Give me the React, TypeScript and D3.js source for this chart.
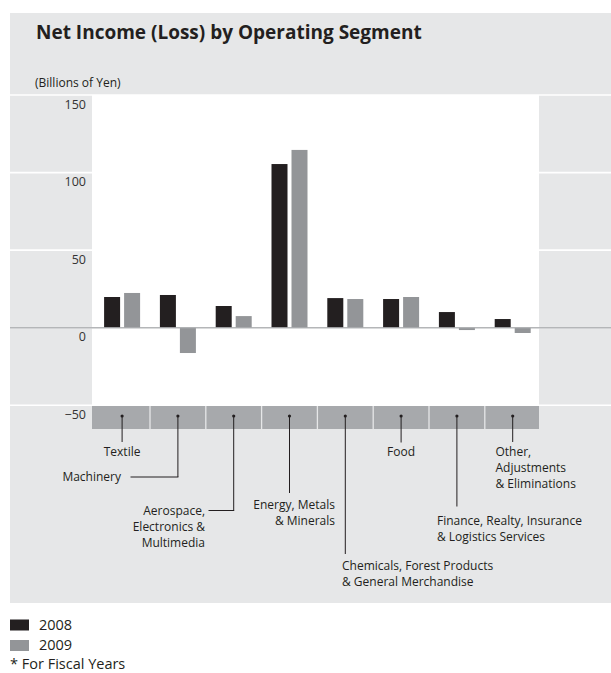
import React from "react";
import * as d3 from "d3";

const categories = [
  "Textile",
  "Machinery",
  "Aerospace, Electronics & Multimedia",
  "Energy, Metals & Minerals",
  "Chemicals, Forest Products & General Merchandise",
  "Food",
  "Finance, Realty, Insurance & Logistics Services",
  "Other, Adjustments & Eliminations",
];
const years = ["2008", "2009"];
const values2008 = [19.8, 21.1, 14.0, 105.5, 19.1, 18.5, 10.1, 5.6];
const values2009 = [22.4, -16.3, 7.5, 114.6, 18.5, 19.8, -1.5, -3.4];
const yTicks = [150, 100, 50, 0, -50];
const tickLabels = ["150", "100", "50", "0", "\u221250"];

// label layout (styles / positions only)
type LabelLayout = {
  lines: string[];
  lineEndY: number;
  elbowX?: number;
  anchor: "start" | "middle" | "end";
  tx: number;
  absX?: boolean;
  ty: number;
};
const labelLayout: LabelLayout[] = [
  { lines: ["Textile"], lineEndY: 442, anchor: "middle", tx: 0, ty: 455.5 },
  { lines: ["Machinery"], lineEndY: 477, elbowX: 130.5, anchor: "end", tx: 121, absX: true, ty: 480.5 },
  { lines: ["Aerospace,", "Electronics &", "Multimedia"], lineEndY: 510.5, elbowX: 208.5, anchor: "end", tx: 205, absX: true, ty: 515 },
  { lines: ["Energy, Metals", "& Minerals"], lineEndY: 493, anchor: "end", tx: 335, absX: true, ty: 509 },
  { lines: ["Chemicals, Forest Products", "& General Merchandise"], lineEndY: 554, anchor: "start", tx: 342, absX: true, ty: 569.5 },
  { lines: ["Food"], lineEndY: 442.5, anchor: "middle", tx: 0, ty: 455.5 },
  { lines: ["Finance, Realty, Insurance", "& Logistics Services"], lineEndY: 506.5, anchor: "start", tx: 437, absX: true, ty: 524.5 },
  { lines: ["Other,", "Adjustments", "& Eliminations"], lineEndY: 442, anchor: "start", tx: 495.5, absX: true, ty: 455.5 },
];

const FONT = "'Open Sans', 'DejaVu Sans', sans-serif";
const TEXT = "#231f20";
const PANEL = "#e6e7e8";
const DARK = "#231f20";
const MID = "#939598";
const BAND = "#a7a9ac";

export default function App() {
  const W = 611;
  const H = 673;
  const plotL = 92;
  const plotR = 539;
  const y = d3.scaleLinear().domain([-50, 150]).range([405.3, 95]);
  const x = d3.scaleBand<string>().domain(categories).range([94.2, 540.6]);
  const inner = d3.scaleBand<string>().domain(years).range([-18, 18]).paddingInner(0.2);
  const series = [values2008, values2009];
  const colors = [DARK, MID];

  return (
    <svg width={W} height={H} style={{ position: "absolute", left: 0, top: 0 }} fontFamily={FONT}>
      <rect x={0} y={0} width={W} height={H} fill="#fff" />
      <rect x={10} y={13} width={W - 10} height={590} fill={PANEL} />
      <text x={36} y={38.5} fontSize={19} fontWeight={700} fill={TEXT}>
        Net Income (Loss) by Operating Segment
      </text>
      <text x={35} y={87} fontSize={12} fill={TEXT}>
        (Billions of Yen)
      </text>
      <rect x={plotL} y={y(150)} width={plotR - plotL} height={y(-50) - y(150)} fill="#fff" />
      {yTicks.map((t) => (
        <line key={t} x1={10} x2={W} y1={y(t)} y2={y(t)} stroke="#fff" strokeWidth={1.6} />
      ))}
      {yTicks.map((t, i) => (
        <text key={t} x={86} y={y(t) + 13.5} fontSize={12.5} textAnchor="end" fill="#333">
          {tickLabels[i]}
        </text>
      ))}
      {categories.map((c, ci) => {
        const cx = (x(c) as number) + x.bandwidth() / 2;
        return years.map((yr, si) => {
          const v = series[si][ci];
          const y0 = y(0);
          const y1 = y(v);
          return (
            <rect
              key={c + yr}
              x={cx + (inner(yr) as number)}
              y={Math.min(y0, y1)}
              width={inner.bandwidth()}
              height={Math.abs(y1 - y0)}
              fill={colors[si]}
            />
          );
        });
      })}
      <line x1={10} x2={W} y1={y(0)} y2={y(0)} stroke="#a7a9ac" strokeOpacity={0.85} strokeWidth={1.6} />
      <rect x={plotL} y={406} width={plotR - plotL} height={23} fill={BAND} />
      {categories.slice(1).map((c) => (
        <line key={c} x1={x(c) as number} x2={x(c) as number} y1={406} y2={429} stroke="#e6e7e8" strokeWidth={1.3} />
      ))}
      {categories.map((c, ci) => {
        const cx = (x(c) as number) + x.bandwidth() / 2;
        const L = labelLayout[ci];
        const tx = L.absX ? L.tx : cx + L.tx;
        return (
          <g key={c}>
            <circle cx={cx} cy={416} r={1.6} fill={TEXT} />
            <line x1={cx} x2={cx} y1={416} y2={L.lineEndY} stroke={TEXT} strokeWidth={1} />
            {L.elbowX !== undefined && (
              <line x1={cx + 0.5} x2={L.elbowX} y1={L.lineEndY} y2={L.lineEndY} stroke={TEXT} strokeWidth={1} />
            )}
            {L.lines.map((ln, li) => (
              <text key={li} x={tx} y={L.ty + li * 16} fontSize={12} textAnchor={L.anchor} fill={TEXT}>
                {ln}
              </text>
            ))}
          </g>
        );
      })}
      {years.map((yr, i) => (
        <g key={yr}>
          <rect x={10} y={619.5 + i * 20.5} width={19} height={11} fill={colors[i]} />
          <text x={39} y={629.5 + i * 20.5} fontSize={14.5} fill={TEXT}>
            {yr}
          </text>
        </g>
      ))}
      <text x={10} y={669} fontSize={14.5} fill={TEXT}>
        * For Fiscal Years
      </text>
    </svg>
  );
}
